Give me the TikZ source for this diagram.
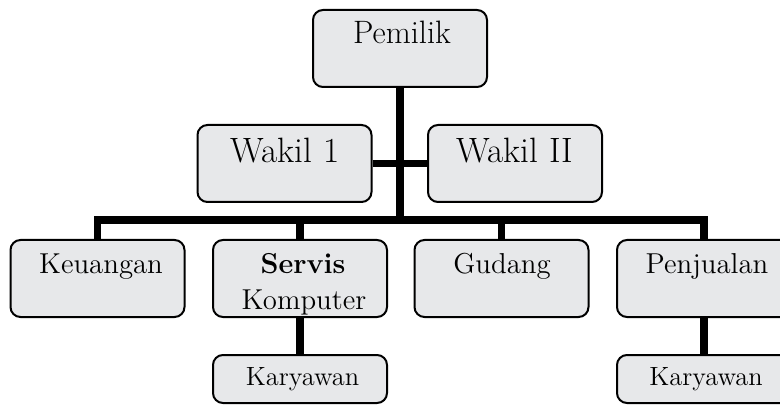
\documentclass[tikz,border=0pt]{standalone}
\usepackage{fontspec}
\definecolor{kotak}{RGB}{231,232,234}
\tikzset{
  kotak/.style={draw=black,line width=1pt,fill=kotak,rounded corners=5pt,minimum width=87pt,minimum height=38.5pt,inner sep=0pt},
  kecil/.style={kotak,minimum height=24pt},
  garis/.style={line width=3.6pt,line join=miter},
  tulis/.style={anchor=base,inner sep=0pt},
}
\newcommand{\besar}{\fontsize{17.6}{20}\selectfont}
\newcommand{\sedang}{\fontsize{16.2}{19}\selectfont}
\newcommand{\normalx}{\fontsize{14.4}{17}\selectfont}
\newcommand{\kecilx}{\fontsize{13.2}{15}\selectfont}
\begin{document}
\begin{tikzpicture}[x=0.5pt,y=-0.5pt]
\useasboundingbox (0,0) rectangle (780,405);

% Kotak
\node[kotak] (pemilik) at (400,48.5) {};
\node[kotak] (wakilA) at (284.5,163.5) {};
\node[kotak] (wakilB) at (515,163.5) {};
\node[kotak] (keuangan) at (97.5,278.5) {};
\node[kotak] (servis) at (300,278.5) {};
\node[kotak] (gudang) at (501.5,278.5) {};
\node[kotak] (penjualan) at (704,278.5) {};
\node[kecil] (karyawanA) at (300,379) {};
\node[kecil] (karyawanB) at (704,379) {};

% Garis
\coordinate (bus) at (400,220);
\draw[garis] (pemilik.south) -- (bus);
\draw[garis] (wakilA) -- (wakilB);
\draw[garis] (keuangan.north) |- (bus) -| (penjualan.north);
\foreach \n in {servis,gudang} {
  \draw[garis] (bus -| \n.north) -- (\n.north);
}
\draw[garis] (servis) -- (karyawanA);
\draw[garis] (penjualan) -- (karyawanB);

% Tulisan
\node[tulis] (tPemilik) at (402,44) {\sedang Pemilik};
\node[tulis] (tWakilA) at (285,163) {\besar Wakil 1};
\node[tulis] (tWakilB) at (515,163) {\besar Wakil II};
\node[tulis] (tKeuangan) at (101,273) {\normalx Keuangan};
\node[tulis] (tServis) at (303,273) {\normalx\bfseries Servis};
\node[tulis] (tKomputer) at (304,309) {\normalx Komputer};
\node[tulis] (tGudang) at (502,273) {\normalx Gudang};
\node[tulis] (tPenjualan) at (707,273) {\normalx Penjualan};
\node[tulis] (tKaryawanA) at (302.5,385) {\kecilx Karyawan};
\node[tulis] (tKaryawanB) at (706,385) {\kecilx Karyawan};
\end{tikzpicture}
\end{document}
